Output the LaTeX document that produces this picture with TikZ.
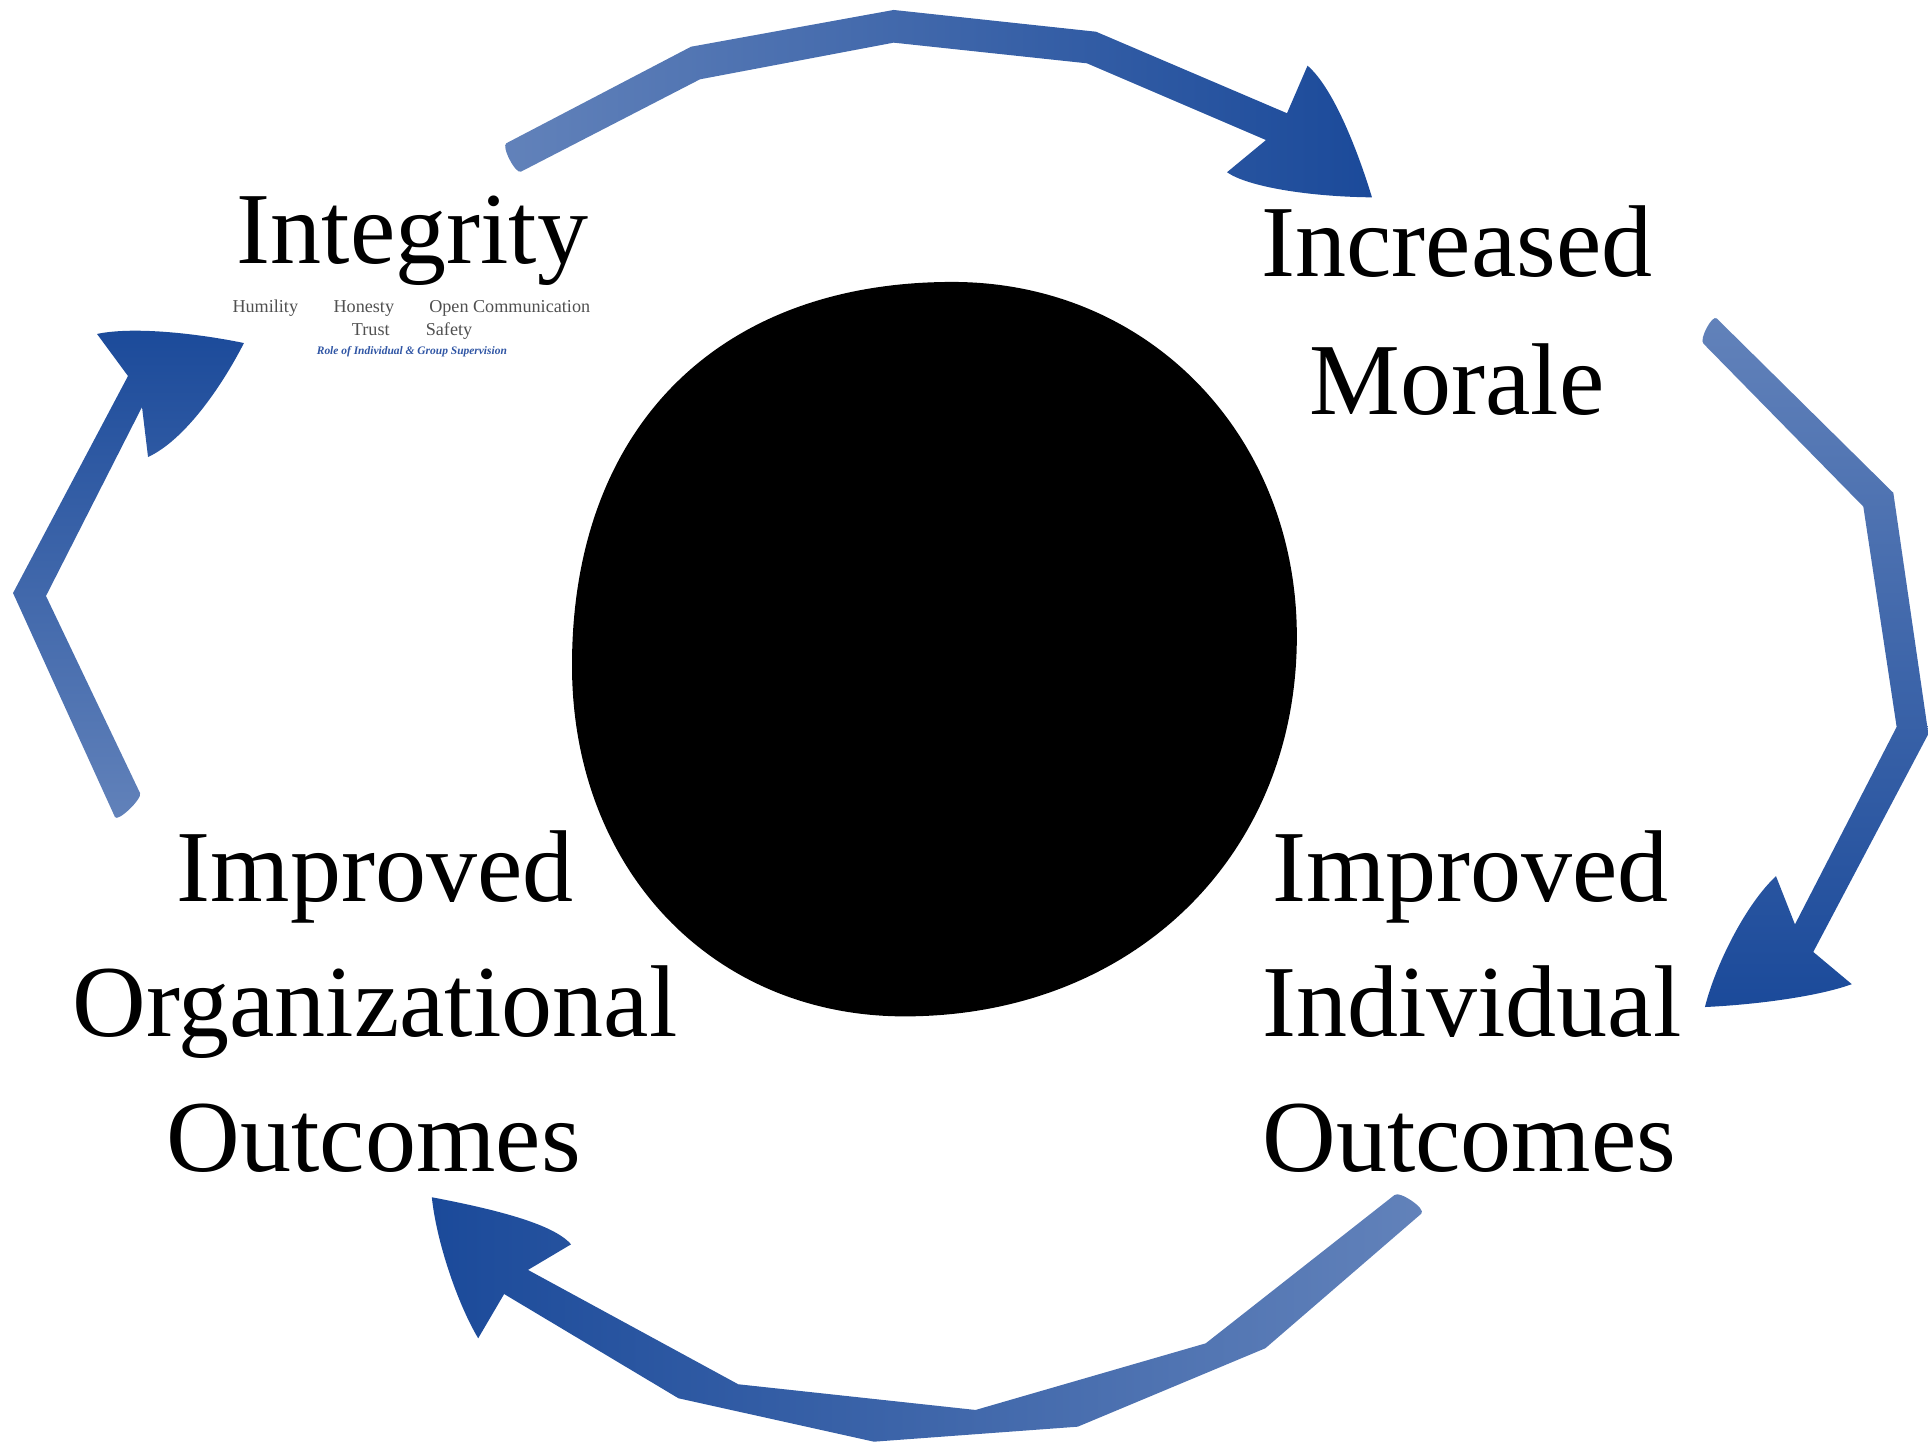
\documentclass[tikz,border=0pt]{standalone}
\usepackage{fontspec}
\setmainfont{Liberation Serif}
\begin{document}
\definecolor{arrlight}{RGB}{98,130,186}
\definecolor{arrdark}{RGB}{27,74,154}
\definecolor{subgrey}{RGB}{80,80,80}
\definecolor{roleblue}{RGB}{47,85,164}
\begin{tikzpicture}[x=0.01cm,y=-0.01cm,
  bigtext/.style={inner sep=0pt,anchor=base,font=\fontsize{23.6}{31}\selectfont},
  smalltext/.style={inner sep=0pt,anchor=base west,text=subgrey,font=\fontsize{4.2}{5}\selectfont},
  roletext/.style={inner sep=0pt,anchor=base west,text=roleblue,font=\fontsize{2.65}{3}\selectfont\bfseries\itshape}]
\useasboundingbox (0,0) rectangle (1568,1173);

% central disc
\fill[black] (774.5,229.3)
  .. controls (935,229.3) and (1054.7,355) .. (1054.7,517.6)
  .. controls (1054.7,696.8) and (920.6,826.6) .. (735.6,826.6)
  .. controls (579,826.6) and (465.2,706.5) .. (465.2,541.2)
  .. controls (465.2,348) and (584,229.3) .. (774.5,229.3) -- cycle;

% arrow: Integrity -> Increased Morale
\shade[left color=arrlight,right color=arrdark]
  (411.8,116.5) -- (562,38) -- (726.8,8.1) -- (891.4,25.8) -- (1046.7,92.1) -- (1063.4,53.4)
  .. controls (1085,72) and (1105,125) .. (1115.8,160.5)
  .. controls (1065,160) and (1015,152) .. (997.9,140.1)
  -- (1029.6,113.9) -- (884,51.5) -- (726.8,34.7) -- (569.3,64.5) -- (423.7,139.6)
  .. controls (419.3,141.9) and (407.4,118.8) .. (411.8,116.5) -- cycle;

% arrow: Increased Morale -> Improved Individual Outcomes
\shade[top color=arrlight,bottom color=arrdark]
  (1396.2,259) -- (1539.8,400.8) -- (1568.3,596.9) -- (1474.7,774.2) -- (1506,800.4)
  .. controls (1480,810) and (1430,817) .. (1386.6,819)
  .. controls (1395,785) and (1420,735) .. (1444.4,712.6)
  -- (1459.8,751.8) -- (1542.5,591.2) -- (1515.4,412) -- (1385.3,279.4)
  .. controls (1381.7,275.9) and (1392.6,255.5) .. (1396.2,259) -- cycle;

% arrow: Improved Individual Outcomes -> Improved Organizational Outcomes
\shade[left color=arrdark,right color=arrlight]
  (1156,987) -- (1029.1,1096.5) -- (876.5,1160.3) -- (710.8,1172.5) -- (551.8,1137.2)
  -- (410,1052.4) -- (388.9,1088.4)
  .. controls (372,1060) and (355,1010) .. (351.2,973.7)
  .. controls (400,983) and (450,995) .. (464.4,1012)
  -- (429.4,1032.8) -- (600.4,1125.8) -- (793.4,1146.7) -- (980.6,1092.5) -- (1134,972)
  .. controls (1138,968) and (1160,983) .. (1156,987) -- cycle;

% arrow: Improved Organizational Outcomes -> Integrity
\shade[bottom color=arrlight,top color=arrdark]
  (113.9,645) -- (37.4,484.7) -- (115.5,331) -- (120.4,371.7)
  .. controls (150,358) and (180,315) .. (198.4,279)
  .. controls (165,272) and (110,265) .. (78.9,271.6)
  -- (104.1,305.8) -- (10.6,482.3) -- (93.5,664.5)
  .. controls (95.6,669) and (116,649.5) .. (113.9,645) -- cycle;

% labels
\node[bigtext] (integrity) at (335.5,214) {Integrity};
\node[smalltext] (humility) at (188.4,254) {Humility};
\node[smalltext] (honesty) at (270.6,254) {Honesty};
\node[smalltext] (opencomm) at (348.4,254) {Open Communication};
\node[smalltext] (trust) at (285.5,272.5) {Trust};
\node[smalltext] (safety) at (345.6,272.5) {Safety};
\node[roletext] (role) at (257,288) {Role of Individual \& Group Supervision};

\node[bigtext] (morale1) at (1185,225) {Increased};
\node[bigtext] (morale2) at (1185,337) {Morale};

\node[bigtext] (indiv1) at (1196,733) {Improved};
\node[bigtext] (indiv2) at (1197,843) {Individual};
\node[bigtext] (indiv3) at (1195,953) {Outcomes};

\node[bigtext] (org1) at (305,733) {Improved};
\node[bigtext] (org2) at (305,843) {Organizational};
\node[bigtext] (org3) at (304,953) {Outcomes};
\end{tikzpicture}
\end{document}
